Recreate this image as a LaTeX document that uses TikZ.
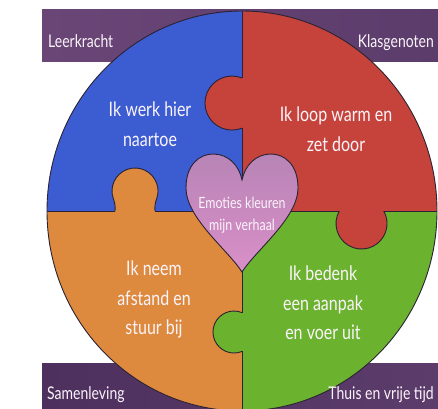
\documentclass[tikz,border=0pt]{standalone}
\usepackage{fontspec}
\newfontfamily\hand{Lato}[FakeStretch=0.8]
\definecolor{bandA}{HTML}{6A4677}
\definecolor{bandB}{HTML}{86649A}
\definecolor{bandC}{HTML}{5B3C6B}
\definecolor{bandD}{HTML}{4E305E}
\definecolor{bandE}{HTML}{8758A3}
\definecolor{qblue}{HTML}{3C5CD2}
\definecolor{qred}{HTML}{C6433B}
\definecolor{qorange}{HTML}{DD893E}
\definecolor{qgreen}{HTML}{6BB22E}
\definecolor{heartpink}{HTML}{D98FC8}
\definecolor{hearttop}{HTML}{B884B6}
\definecolor{edge}{HTML}{2B2233}
\definecolor{txt}{HTML}{FBF4FA}
\begin{document}
\begin{tikzpicture}[x=1pt,y=1pt,
  outline/.style={draw=edge,line width=0.9pt},
  bigtext/.style={text=txt,font=\hand\fontsize{20}{29.5}\selectfont,align=center,inner sep=0pt,anchor=north},
  hearttext/.style={text=txt,font=\hand\fontsize{15.5}{22}\selectfont,align=center,inner sep=0pt,anchor=north},
  bandtext/.style={text=txt,font=\hand\fontsize{17.5}{20}\selectfont,inner sep=0pt}]
\useasboundingbox (0,0) rectangle (438,408);
\clip (0,0) rectangle (438,408);
% bands
\shade[left color=bandA, middle color=bandB, right color=bandC] (42,347) rectangle (438,398);
\shade[left color=bandD, middle color=bandE, right color=bandC] (42,0) rectangle (438,45);
\coordinate (C) at (242,197);
% quadrants
\begin{scope}
  \clip (C) ellipse [x radius=195, y radius=200];
  \fill[qblue] (C) rectangle ++(-200,205);
  \fill[qred] (C) rectangle ++(200,205);
  \fill[qorange] (C) rectangle ++(-200,-205);
  \fill[qgreen] (C) rectangle ++(200,-205);
\end{scope}
% knobs
\draw[outline,fill=qorange] (115,197) to[out=85,in=-70] (113.4,209.1)
  arc[start angle=200,end angle=-20,radius=23] to[out=250,in=95] (155,197);
\draw[outline,fill=qred] (242,330) arc[start angle=68.2,end angle=291.8,radius=27];
\draw[outline,fill=qred] (339.3,197) arc[start angle=150.6,end angle=389.4,radius=25.5];
\draw[outline,fill=qgreen] (242,95.4) arc[start angle=67.6,end angle=292.4,radius=21];
% dividers
\draw[outline] (242,397) -- (242,330) (242,280) -- (242,95.4) (242,56.6) -- (242,-3);
\draw[outline] (47,197) -- (115,197) (155,197) -- (339.3,197) (383.7,197) -- (437,197);
% rim
\draw[outline] (C) ellipse [x radius=195, y radius=200];
% heart
\shadedraw[outline,top color=hearttop,bottom color=heartpink]
  (242,136) .. controls (228,158) and (186,190) .. (186,220)
  .. controls (186,244) and (200,254) .. (213,254)
  .. controls (228,254) and (239,243) .. (242,228)
  .. controls (245,243) and (256,254) .. (271,254)
  .. controls (284,254) and (298,244) .. (298,220)
  .. controls (298,190) and (256,158) .. (242,136) -- cycle;
% texts
\node[bigtext] (tblue) at (150,306) {Ik werk hier\\naartoe};
\node[bigtext] (tred) at (336,301) {Ik loop warm en\\zet door};
\node[bigtext] (torange) at (154,147) {Ik neem\\afstand en\\stuur bij};
\node[bigtext] (tgreen) at (323,142) {Ik bedenk\\een aanpak\\en voer uit};
\node[hearttext] (theart) at (242,211) {Emoties kleuren\\mijn verhaal};
\node[bandtext,anchor=base west] (l1) at (48,360) {Leerkracht};
\node[bandtext,anchor=base east] (l2) at (434,360) {Klasgenoten};
\node[bandtext,anchor=base west] (l3) at (47,9) {Samenleving};
\node[bandtext,anchor=base east] (l4) at (434,9) {Thuis en vrije tijd};
\end{tikzpicture}
\end{document}
